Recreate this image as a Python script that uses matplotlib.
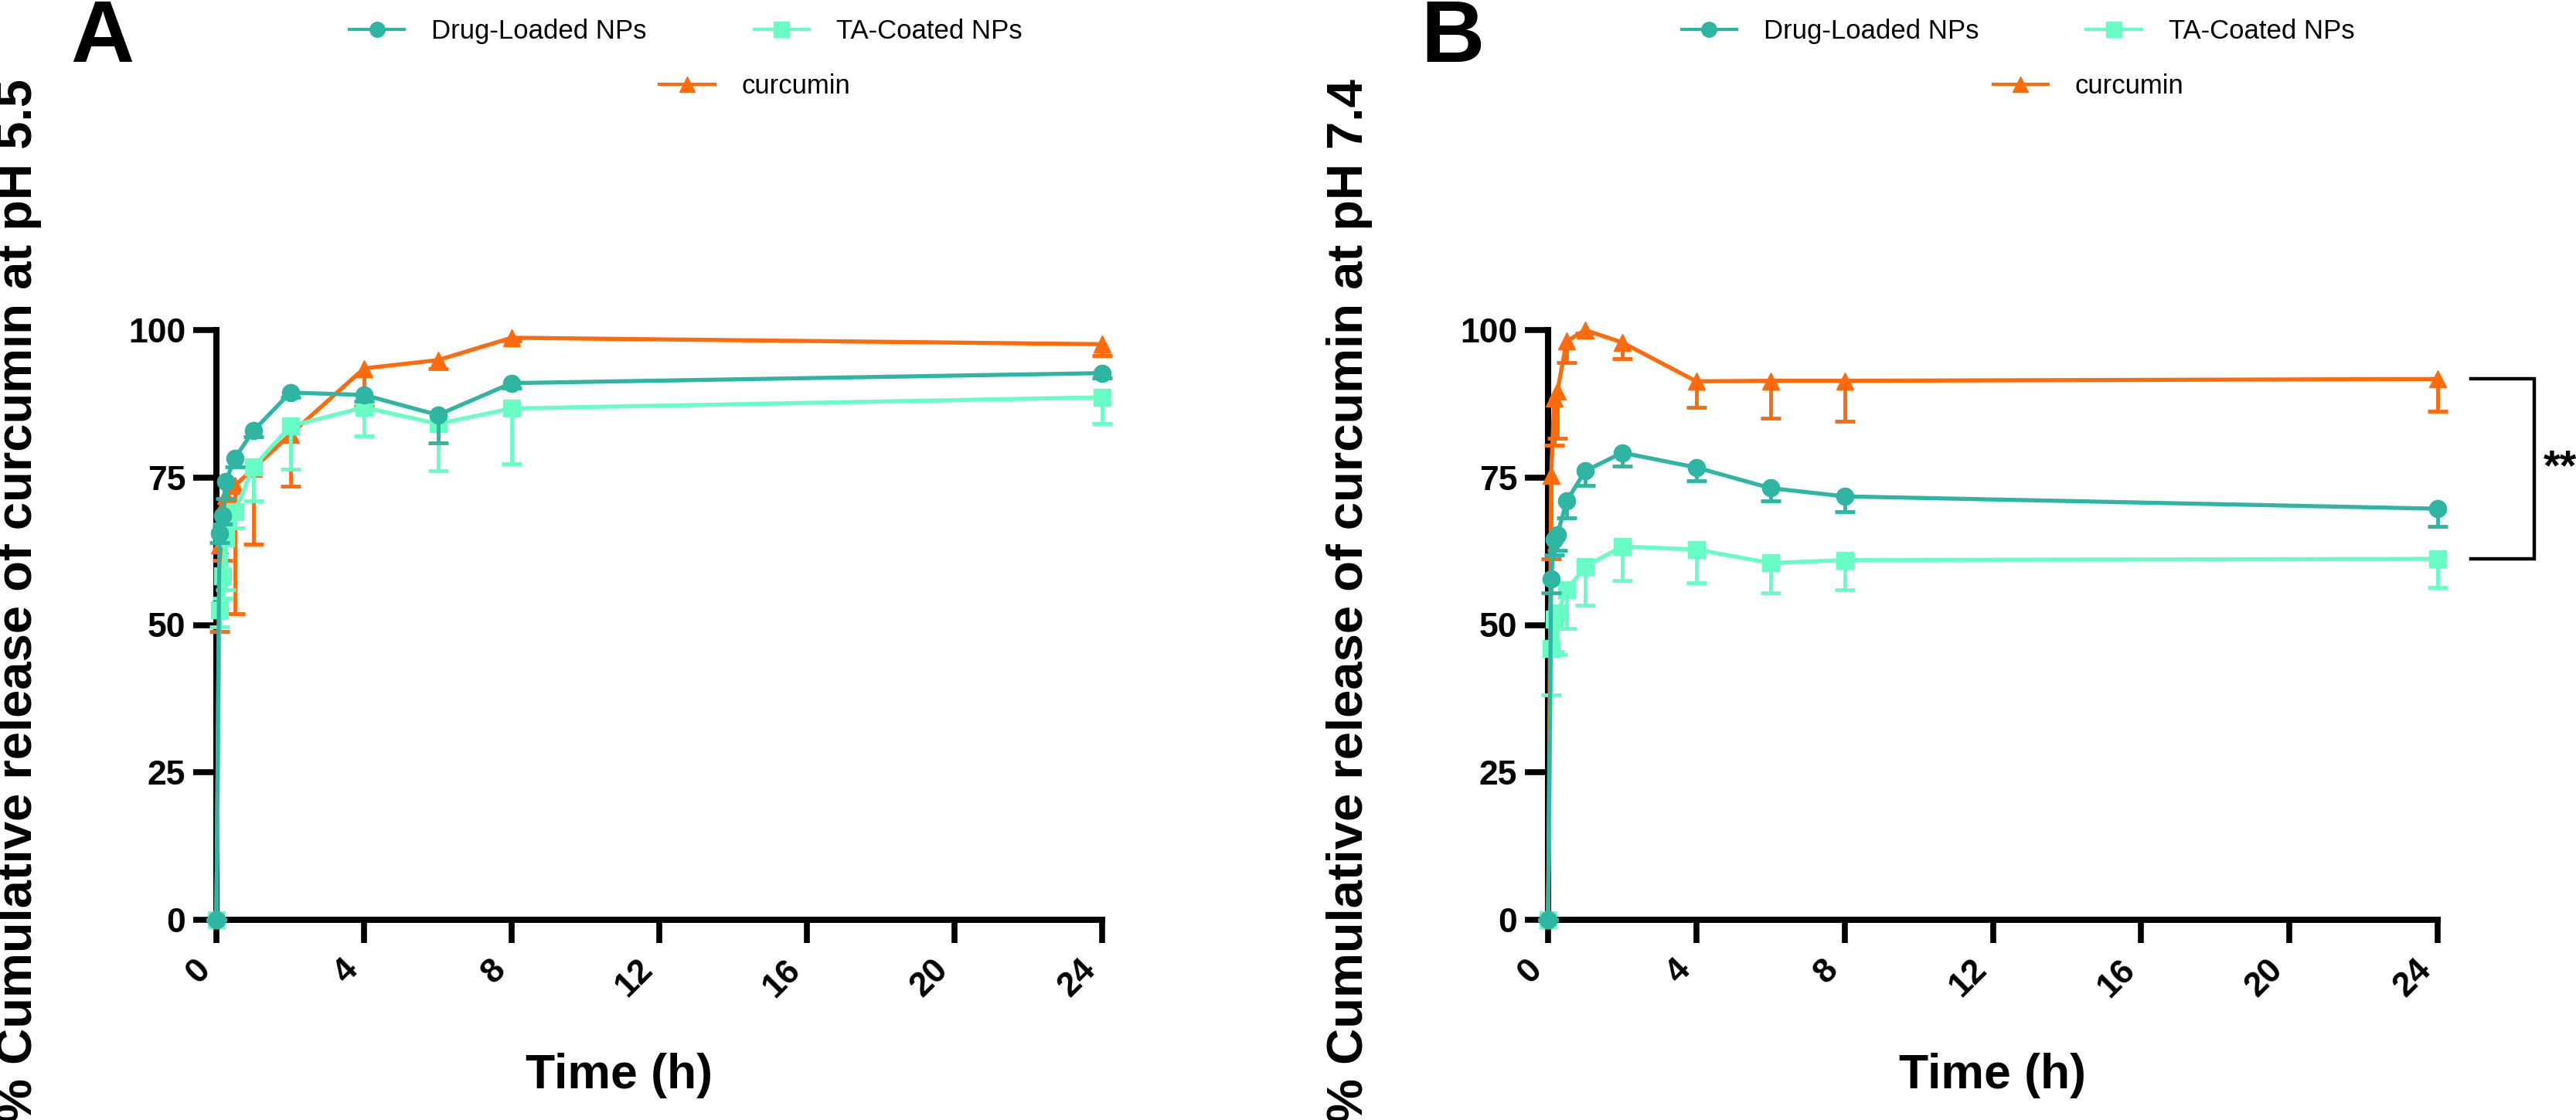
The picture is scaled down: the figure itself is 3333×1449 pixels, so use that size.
import matplotlib
matplotlib.use("Agg")
import matplotlib.pyplot as plt
from matplotlib.lines import Line2D

plt.rcParams['font.family'] = ['Liberation Sans', 'DejaVu Sans']

# sampling times (h)
time_h = [0, 1/12, 1/6, 0.25, 0.5, 1, 2, 4, 6, 8, 24]

# pH 5.5 (panel A) - mean and lower error
drug_a = [0, 65.5, 68.6, 74.3, 78.3, 82.9, 89.4, 89.0, 85.6, 91.0, 92.7]
drug_a_err = [0, 1.5, 1.5, 2.9, 1.5, 1.0, 0.8, 1.0, 4.8, 0.8, 0.8]
ta_a = [0, 52.5, 58.3, 64.7, 69.2, 76.8, 83.7, 86.9, 84.1, 86.7, 88.6]
ta_a_err = [0, 2.8, 3.8, 8.8, 2.8, 5.7, 7.3, 4.9, 8.0, 9.4, 4.5]
cur_a = [0, 63.5, 70.0, 72.0, 73.6, 76.5, 82.3, 93.5, 94.9, 98.7, 97.6]
cur_a_err = [0, 14.6, 9.0, 6.0, 21.7, 12.8, 8.8, 6.3, 1.5, 0.5, 1.9]

# pH 7.4 (panel B)
drug_b = [0, 57.8, 64.5, 65.3, 71.0, 76.1, 79.2, 76.7, 73.2, 71.8, 69.7]
drug_b_err = [0, 2.3, 2.6, 2.6, 2.9, 2.5, 2.3, 2.2, 2.2, 2.6, 3.0]
ta_b = [0, 46.0, 51.0, 52.0, 55.9, 59.9, 63.3, 62.8, 60.5, 61.0, 61.2]
ta_b_err = [0, 7.8, 5.5, 7.0, 6.5, 6.5, 5.8, 5.6, 5.0, 5.1, 4.8]
cur_b = [0, 75.4, 88.5, 89.6, 98.1, 100.0, 97.9, 91.3, 91.4, 91.4, 91.7]
cur_b_err = [0, 14.2, 8.0, 8.0, 3.6, 0.5, 2.8, 4.4, 6.4, 6.8, 5.4]

labels = ['Drug-Loaded NPs', 'TA-Coated NPs', 'curcumin']
colors = ['#2FB5A3', '#69FDC6', '#FF6A0D']
markers = ['o', 's', '^']

W, H = 3333, 1449
fig = plt.figure(figsize=(W / 100, H / 100), dpi=100)
ax_a = fig.add_axes([280 / W, 259 / H, 1146 / W, 763 / H])
ax_b = fig.add_axes([2003 / W, 259 / H, 1151 / W, 763 / H])


def draw_series(ax, y, err, color, marker, z):
    n = len(y)
    line, caps, bars = ax.errorbar(time_h, y, yerr=[err, [0] * n], color=color,
                                   marker=marker, ms=16, lw=3.8, elinewidth=3.5,
                                   capsize=9.5, capthick=3.5, zorder=z, clip_on=False)
    caps[1].set_visible(False)
    for art in [line, *caps, *bars]:
        art.set_clip_on(False)


def style_axes(ax):
    ax.set_xlim(0, 24)
    ax.set_ylim(0, 100)
    for s in ['top', 'right']:
        ax.spines[s].set_visible(False)
    for s in ['left', 'bottom']:
        ax.spines[s].set_linewidth(5.8)
    ax.set_xticks(range(0, 25, 4))
    ax.set_yticks([0, 25, 50, 75, 100])
    ax.tick_params(direction='out', length=21.6, width=5.5, labelsize=32)
    ax.tick_params(axis='y', pad=7)
    ax.tick_params(axis='x', pad=10)
    for t in ax.get_xticklabels():
        t.set_rotation(45)
        t.set_ha('right')
        t.set_fontweight('bold')
    for t in ax.get_yticklabels():
        t.set_fontweight('bold')
    ax.patch.set_alpha(0)


def add_legend(ax):
    handles = [Line2D([], [], color=c, marker=m, ms=14, lw=3) for c, m in zip(colors, markers)]
    kw = dict(loc='center left', frameon=False, fontsize=25, handlelength=2.06,
              handletextpad=1.0, borderpad=0, borderaxespad=0)
    leg1 = ax.legend(handles[:2], labels[:2], ncol=2, columnspacing=4.0,
                     bbox_to_anchor=(0.150, 1.506), **kw)
    ax.add_artist(leg1)
    ax.legend(handles[2:], labels[2:], bbox_to_anchor=(0.500, 1.413), **kw)


panels = [
    (ax_a, drug_a, drug_a_err, ta_a, ta_a_err, cur_a, cur_a_err),
    (ax_b, drug_b, drug_b_err, ta_b, ta_b_err, cur_b, cur_b_err),
]
for ax, d, de, t, te, c, ce in panels:
    draw_series(ax, c, ce, colors[2], markers[2], 3)
    draw_series(ax, t, te, colors[1], markers[1], 4)
    draw_series(ax, d, de, colors[0], markers[0], 5)
    style_axes(ax)
    add_legend(ax)

# significance bracket on panel B between curcumin and TA-coated at 24 h
x1, x2 = time_h[-1] + 0.9, time_h[-1] + 2.6
ax_b.plot([x1, x2, x2, x1], [cur_b[-1], cur_b[-1], ta_b[-1], ta_b[-1]],
          color='black', lw=3.2, clip_on=False, solid_joinstyle='miter')
ax_b.text(x2 + 0.25, (cur_b[-1] + ta_b[-1]) / 2, '**', fontsize=40, fontweight='bold',
          ha='left', va='center', clip_on=False)

# axis titles
fig.text(801 / W, 1 - 1408 / H, 'Time (h)', fontsize=45, fontweight='bold',
         ha='center', va='baseline')
fig.text(2578 / W, 1 - 1408 / H, 'Time (h)', fontsize=45, fontweight='bold',
         ha='center', va='baseline')
fig.text(24 / W, 1 - 102 / H, '% Cumulative release of curcumin at pH 5.5', fontsize=47,
         fontweight='bold', rotation=90, ha='center', va='top')
fig.text(1746 / W, 1 - 102 / H, '% Cumulative release of curcumin at pH 7.4', fontsize=47,
         fontweight='bold', rotation=90, ha='center', va='top')

# panel letters
fig.text(91 / W, 1 - 80 / H, 'A', fontsize=82, fontweight='bold', ha='left', va='baseline')
fig.text(1838 / W, 1 - 80 / H, 'B', fontsize=82, fontweight='bold', ha='left', va='baseline')

fig.savefig('out.png', dpi=100)
